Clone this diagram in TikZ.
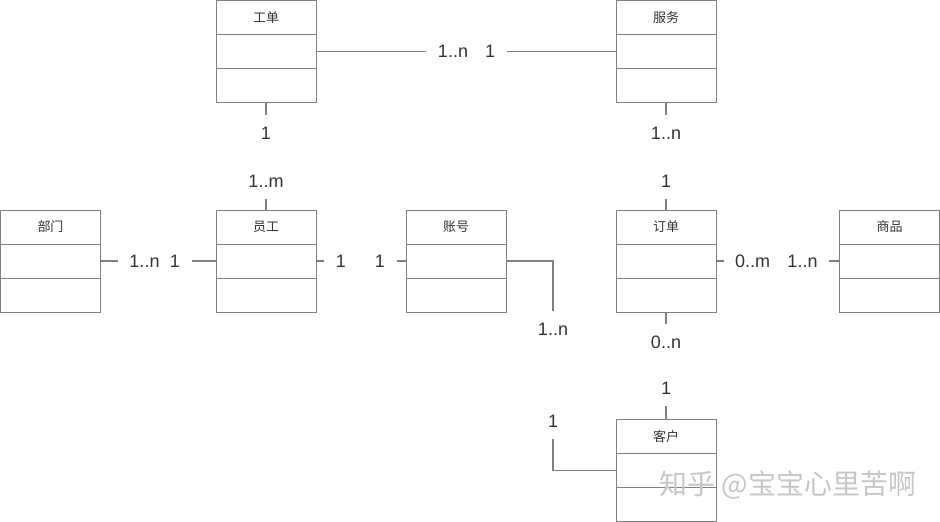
\documentclass[tikz,border=0pt]{standalone}
\usepackage{fontspec}
\setmainfont{Liberation Sans}
\newfontfamily\cjk{Noto Sans CJK SC}
\definecolor{linegray}{HTML}{808080}
\definecolor{textgray}{HTML}{333333}
\tikzset{
  classbox/.style={draw=linegray, line width=1pt, minimum width=100pt, minimum height=102pt, inner sep=0pt, outer sep=0pt},
  divider/.style={draw=linegray, line width=1pt},
  titletext/.style={font=\cjk\fontsize{13}{13}\selectfont, text=textgray, inner sep=0pt},
  mult/.style={font=\fontsize{18}{18}\selectfont, text=textgray, inner sep=0pt, outer sep=11.5pt},
  conn/.style={draw=linegray, line width=1.6pt},
  wmark/.style={font=\cjk\fontsize{28}{28}\selectfont, text=black!22, inner sep=0pt}
}
\newcommand{\umlbox}[4]{%
  \node[classbox] (#1) at (#2,#3) {};
  \draw[divider] ([yshift=-34pt]#1.north west) -- ([yshift=-34pt]#1.north east);
  \draw[divider] ([yshift=-68pt]#1.north west) -- ([yshift=-68pt]#1.north east);
  \node[titletext] (#1t) at ([yshift=-17pt]#1.north) {#4};
}
\begin{document}
\begin{tikzpicture}[x=1pt,y=-1pt]
\useasboundingbox (0,0) rectangle (940,522);
\fill[white] (0,0) rectangle (940,522);

\umlbox{gd}{266}{51.5}{工单}
\umlbox{fw}{666}{51.5}{服务}
\umlbox{bm}{50.5}{261}{部门}
\umlbox{yg}{266}{261}{员工}
\umlbox{zh}{456}{261}{账号}
\umlbox{dd}{666}{261}{订单}
\umlbox{sp}{889.5}{261}{商品}
\umlbox{kh}{666}{470.5}{客户}

% 工单 - 服务
\node[mult] (m1a) at (453,51.5) {1..n};
\node[mult] (m1b) at (490,51.5) {1};
\draw[conn] (gd.east) -- (m1a);
\draw[conn] (m1b) -- (fw.west);

% 工单 - 员工
\node[mult] (m2a) at (266,133) {1};
\node[mult] (m2b) at (266,181) {1..m};
\draw[conn] (gd.south) -- (m2a);
\draw[conn] (m2b) -- (yg.north);

% 服务 - 订单
\node[mult] (m3a) at (666,133) {1..n};
\node[mult] (m3b) at (666,181) {1};
\draw[conn] (fw.south) -- (m3a);
\draw[conn] (m3b) -- (dd.north);

% 部门 - 员工
\node[mult] (m4a) at (144.5,261) {1..n};
\node[mult] (m4b) at (175,261) {1};
\draw[conn] (bm.east) -- (m4a);
\draw[conn] (m4b) -- (yg.west);

% 员工 - 账号
\node[mult] (m5a) at (341,261) {1};
\node[mult] (m5b) at (380,261) {1};
\draw[conn] (yg.east) -- (m5a);
\draw[conn] (m5b) -- (zh.west);

% 订单 - 商品
\node[mult] (m6a) at (752.5,261) {0..m};
\node[mult] (m6b) at (802.5,261) {1..n};
\draw[conn] (dd.east) -- (m6a);
\draw[conn] (m6b) -- (sp.west);

% 订单 - 客户
\node[mult] (m7a) at (666,342) {0..n};
\node[mult] (m7b) at (666,388) {1};
\draw[conn] (dd.south) -- (m7a);
\draw[conn] (m7b) -- (kh.north);

% 账号 - 客户
\node[mult] (m8a) at (553,329) {1..n};
\node[mult] (m8b) at (553,421) {1};
\draw[conn] (zh.east) -| (m8a);
\draw[conn] (m8b) |- (kh.west);

% watermark
\node[wmark] (wm) at (788,485) {知乎 @宝宝心里苦啊};
\end{tikzpicture}
\end{document}
